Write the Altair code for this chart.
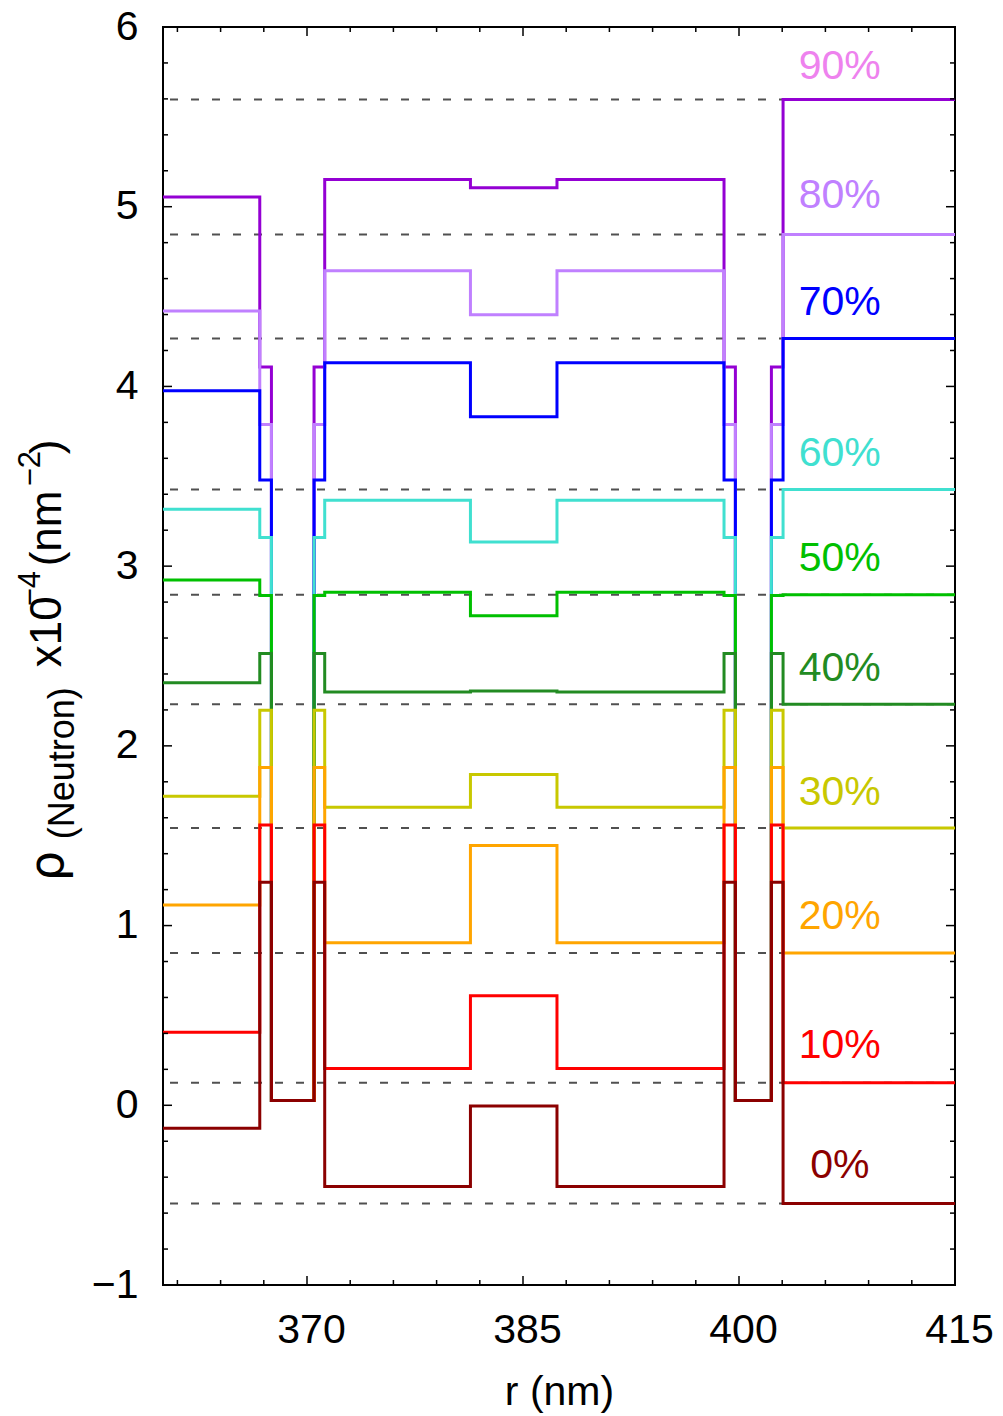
import altair as alt
import pandas as pd

# ---------------- data ----------------
contrasts = ["90%", "80%", "70%", "60%", "50%", "40%", "30%", "20%", "10%", "0%"]
line_colors = ["#9400D3", "#C080FF", "#0000FF", "#40E0D0", "#00C000",
               "#228B22", "#C8C800", "#FFA500", "#FF0000", "#8B0000"]
label_colors = ["#EE82EE", "#C080FF", "#0000FF", "#40E0D0", "#00C000",
                "#228B22", "#C8C800", "#FFA500", "#FF0000", "#8B0000"]

# layer boundaries along r (nm)
r_edges = [360.0, 366.72, 367.53, 370.49, 371.23, 381.35, 387.36,
           398.96, 399.75, 402.25, 403.06, 415.0]

rho_left = [5.054, 4.420, 3.976, 3.317, 2.923, 2.351, 1.720, 1.114, 0.407, -0.128]
rho_head = [4.108, 3.788, 3.480, 3.160, 2.837, 2.514, 2.198, 1.880, 1.560, 1.241]
rho_tail = 0.027
rho_inner = [5.151, 4.643, 4.132, 3.366, 2.855, 2.299, 1.659, 0.904, 0.205, -0.452]
rho_core = [5.105, 4.399, 3.831, 3.135, 2.724, 2.305, 1.840, 1.446, 0.609, -0.004]
rho_solvent = [5.596, 4.845, 4.267, 3.426, 2.841, 2.231, 1.543, 0.847, 0.125, -0.546]

label_r = 407.0
label_rho = [5.780, 5.060, 4.465, 3.625, 3.040, 2.430, 1.740, 1.045, 0.328, -0.337]

x_major = [370, 385, 400, 415]
x_minor = [361, 364, 367, 373, 376, 379, 382, 388, 391, 394, 397, 403, 406, 409, 412]
y_major = [-1, 0, 1, 2, 3, 4, 5, 6]
y_minor = [-0.8, -0.6, -0.4, -0.2, 0.2, 0.4, 0.6, 0.8, 1.2, 1.4, 1.6, 1.8,
           2.2, 2.4, 2.6, 2.8, 3.2, 3.4, 3.6, 3.8, 4.2, 4.4, 4.6, 4.8,
           5.2, 5.4, 5.6, 5.8]

# ---------------- layout ----------------
W, H = 792, 1258
F = "Liberation Sans"
FS = 41
MAJ, MIN = 9, 5

xscale = alt.Scale(domain=[360, 415], nice=False, zero=False)
yscale = alt.Scale(domain=[-1, 6], nice=False, zero=False)

xaxis = alt.Axis(values=x_major, ticks=False, tickSize=0, domain=False, grid=False,
                 labelFontSize=FS, labelFont=F, labelColor="black", labelPadding=25,
                 labelFlush=False, labelOverlap=False, labelOffset=4,
                 titleFontSize=FS, titleFont=F, titleFontWeight="normal",
                 titleColor="black", titleBaseline="alphabetic", titleY=119)
yaxis = alt.Axis(values=y_major, ticks=False, tickSize=0, domain=False, grid=False,
                 labelFontSize=FS, labelFont=F, labelColor="black", labelPadding=25,
                 labelFlush=False, labelOverlap=False)


def xenc(f):
    return alt.X(f, scale=xscale, axis=xaxis, title="r (nm)")


def yenc(f):
    return alt.Y(f, scale=yscale, axis=yaxis, title="")


layers = []

# dashed solvent reference lines
dash_df = pd.DataFrame({"rho": rho_solvent})
layers.append(alt.Chart(dash_df).mark_rule(strokeDash=[8, 13], color="#505050",
                                            strokeWidth=2).encode(y=yenc("rho:Q")))

# step profiles
for i, name in enumerate(contrasts):
    levels = [rho_left[i], rho_head[i], rho_tail, rho_head[i], rho_inner[i],
              rho_core[i], rho_inner[i], rho_head[i], rho_tail, rho_head[i],
              rho_solvent[i], rho_solvent[i]]
    d = pd.DataFrame({"r": r_edges, "rho": levels})
    layers.append(alt.Chart(d).mark_line(interpolate="step-after", color=line_colors[i],
                                         strokeWidth=3, strokeJoin="miter", clip=True)
                  .encode(x=xenc("r:Q"), y=yenc("rho:Q")))

# percentage labels
lab_df = pd.DataFrame({"label": contrasts, "r": [label_r] * len(contrasts), "rho": label_rho})
layers.append(alt.Chart(lab_df).mark_text(fontSize=FS, font=F, align="center", baseline="middle")
              .encode(x=xenc("r:Q"), y=yenc("rho:Q"), text="label:N",
                      color=alt.Color("label:N", scale=alt.Scale(domain=contrasts, range=label_colors),
                                      legend=None)))


# inward mirrored ticks
def yticks(vals, ln):
    d = pd.DataFrame({"v": vals})
    left = alt.Chart(d).mark_rule(color="black", strokeWidth=1.5).encode(
        y=yenc("v:Q"), x=alt.value(0), x2=alt.value(ln))
    right = alt.Chart(d).mark_rule(color="black", strokeWidth=1.5).encode(
        y=yenc("v:Q"), x=alt.value(W - ln), x2=alt.value(W))
    return [left, right]


def xticks(vals, ln):
    d = pd.DataFrame({"v": vals})
    top = alt.Chart(d).mark_rule(color="black", strokeWidth=1.5).encode(
        x=xenc("v:Q"), y=alt.value(0), y2=alt.value(ln))
    bottom = alt.Chart(d).mark_rule(color="black", strokeWidth=1.5).encode(
        x=xenc("v:Q"), y=alt.value(H - ln), y2=alt.value(H))
    return [top, bottom]


layers += yticks(y_major, MAJ) + yticks(y_minor, MIN)
layers += xticks(x_major, MAJ) + xticks(x_minor, MIN)

# y-axis title built from pieces (sub/superscripts), rotated
OX, OY = 163.3, 26.7  # plot origin on the page
title_pieces = [
    # text, font, font size, baseline x (page), start y (page)
    ("ρ", "DejaVu Sans", 48, 63, 881),
    ("(Neutron)", F, 36, 74, 839),
    ("x10", F, 44, 61, 667),
    ("−4", F, 31, 40, 606),
    ("(nm", F, 44, 61, 566),
    ("−2", F, 31, 40, 486),
    (")", F, 44, 61, 454),
]
for txt, fnt, fs, bx, sy in title_pieces:
    layers.append(alt.Chart(pd.DataFrame({"t": [txt]})).mark_text(
        angle=270, align="left", baseline="alphabetic", fontSize=fs, font=fnt, color="black")
        .encode(text="t:N", x=alt.value(bx - OX), y=alt.value(sy - OY)))

chart = alt.layer(*layers).properties(
    width=W, height=H,
    autosize=alt.AutoSizeParams(type="none"),
    padding={"left": 155, "top": 19, "right": 40, "bottom": 130},
).configure_view(stroke="black", strokeWidth=2)

chart.save("out.html", embed_options={"renderer": "svg", "actions": False})
